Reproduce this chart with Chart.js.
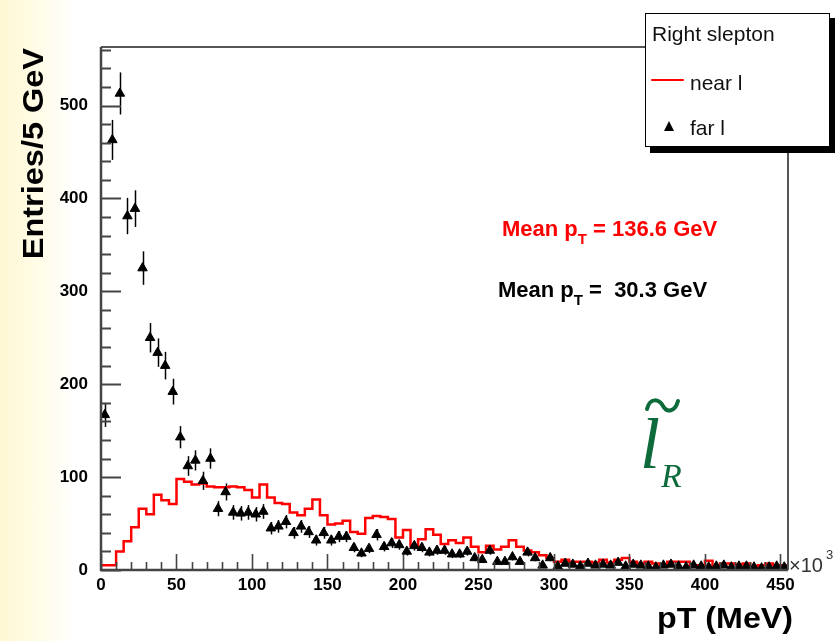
<!DOCTYPE html>
<html>
<head>
<meta charset="utf-8">
<script src="https://cdn.jsdelivr.net/npm/chart.js@4.4.0/dist/chart.umd.min.js"></script>
<style>
  html, body { margin: 0; padding: 0; }
  body {
    width: 838px; height: 641px; overflow: hidden;
    background: linear-gradient(to right, #fff8d4 0px, #fffce8 40px, #ffffff 75px);
  }
  #wrap { position: relative; width: 838px; height: 641px; }
</style>
</head>
<body>
<div id="wrap"><canvas id="ptChart" width="838" height="641"></canvas></div>
<script>
// histogramme : bins de 5 (axe en x10^3)
const binWidth = 5;
const xMax = 455;
const yMax = 563;
const xTickLabels = [0, 50, 100, 150, 200, 250, 300, 350, 400, 450];
const yTickLabels = [0, 100, 200, 300, 400, 500];

// near l (histogramme rouge)
const nearL = [5, 20, 31, 46, 66, 60, 81, 75, 71, 98,
               95, 92, 93, 90, 89, 89, 90, 89, 86, 78,
               92, 78, 72, 71, 62, 59, 66, 76, 59, 49,
               50, 53, 41, 39, 56, 58, 57, 55, 35, 43,
               26, 33, 44, 38, 28, 32, 29, 35, 25, 19,
               26, 22, 25, 32, 25, 21, 19, 16, 13, 9,
               11, 9, 9, 9, 8, 11, 8, 11, 13, 9,
               7, 9, 7, 4, 9, 9, 9, 5, 5, 10,
               2, 7, 7, 6, 7, 4, 5, 7, 5, 5, 3];

// far l (triangles noirs)
const farL = [167, 463, 513, 381, 389, 325, 250, 234, 220, 192,
              143, 112, 118, 96, 120, 66, 84, 62, 61, 62,
              60, 63, 45, 47, 52, 40, 47, 41, 32, 40,
              32, 36, 36, 24, 18, 23, 38, 25, 29, 27,
              20, 26, 24, 19, 21, 21, 17, 17, 20, 13,
              11, 21, 9, 9, 14, 9, 19, 13, 5, 13,
              4, 7, 6, 4, 7, 5, 6, 5, 8, 4,
              6, 5, 4, 3, 5, 6, 4, 3, 5, 4,
              3, 4, 5, 3, 4, 4, 3, 2, 3, 4, 3];

const meanNear = 'Mean p';
const meanNearRest = ' = 136.6 GeV';
const meanFarRest = ' =  30.3 GeV';

// points du histogramme (bords de bins) et centres
const nearPoints = [{ x: 0, y: nearL[0] }].concat(nearL.map((v, i) => ({ x: (i + 1) * binWidth, y: v })));
const farPoints = farL.map((v, i) => ({ x: i * binWidth + binWidth / 2, y: v }));

const FONT = '"Liberation Sans", Arial, Helvetica, sans-serif';

// Fonction pour écrire un texte avec indice T
function drawMean(ctx, x, y, color, rest) {
    ctx.fillStyle = color;
    ctx.font = 'bold 22px ' + FONT;
    ctx.textAlign = 'left';
    ctx.textBaseline = 'alphabetic';
    ctx.fillText(meanNear, x, y);
    let w = ctx.measureText(meanNear).width;
    ctx.font = 'bold 15px ' + FONT;
    ctx.fillText('T', x + w, y + 8);
    w += ctx.measureText('T').width;
    ctx.font = 'bold 22px ' + FONT;
    ctx.fillText(rest, x + w, y);
}

const rootStyle = {
    id: 'rootStyle',
    beforeDatasetsDraw(chart) {
        const { ctx, scales: { x, y } } = chart;
        ctx.save();
        ctx.strokeStyle = '#000';
        ctx.lineWidth = 1.5;
        farPoints.forEach(p => {
            const err = Math.sqrt(p.y);
            const px = Math.round(x.getPixelForValue(p.x)) + 0.5;
            ctx.beginPath();
            ctx.moveTo(px, y.getPixelForValue(p.y - err));
            ctx.lineTo(px, y.getPixelForValue(p.y + err));
            ctx.stroke();
        });
        ctx.restore();
    },
    afterDatasetsDraw(chart) {
        const { ctx, chartArea: a, scales: { x, y } } = chart;
        ctx.save();
        // cadre
        ctx.strokeStyle = '#555';
        ctx.lineWidth = 2;
        ctx.beginPath();
        ctx.moveTo(a.left, a.top);
        ctx.lineTo(a.right, a.top);
        ctx.lineTo(a.right, a.bottom);
        ctx.stroke();
        // axes
        ctx.strokeStyle = '#444';
        ctx.lineWidth = 2.5;
        ctx.beginPath();
        ctx.moveTo(a.left, a.top);
        ctx.lineTo(a.left, a.bottom);
        ctx.lineTo(a.right, a.bottom);
        ctx.stroke();
        // graduations y
        ctx.lineWidth = 2;
        for (let v = 0; v <= yMax; v += 20) {
            const py = Math.round(y.getPixelForValue(v)) + 0.5;
            const len = v % 100 === 0 ? 20 : 10;
            ctx.beginPath();
            ctx.moveTo(a.left, py);
            ctx.lineTo(a.left + len, py);
            ctx.stroke();
        }
        // graduations x
        ctx.lineWidth = 1.6;
        for (let v = 0; v <= xMax; v += 10) {
            const px = Math.round(x.getPixelForValue(v)) + 0.5;
            const len = v % 50 === 0 ? 16 : 8;
            ctx.beginPath();
            ctx.moveTo(px, a.bottom);
            ctx.lineTo(px, a.bottom - len);
            ctx.stroke();
        }
        ctx.restore();
    },
    afterDraw(chart) {
        const { ctx } = chart;
        ctx.save();
        // titres des axes
        ctx.fillStyle = '#000';
        ctx.font = 'bold 29px ' + FONT;
        ctx.textAlign = 'right';
        ctx.textBaseline = 'alphabetic';
        ctx.save();
        ctx.translate(793, 628);
        ctx.scale(1.11, 1);
        ctx.fillText('pT (MeV)', 0, 0);
        ctx.restore();
        ctx.save();
        ctx.translate(43, 48);
        ctx.rotate(-Math.PI / 2);
        ctx.scale(1.12, 1);
        ctx.fillText('Entries/5 GeV', 0, 0);
        ctx.restore();

        // x10^3
        ctx.fillStyle = '#333';
        ctx.textAlign = 'left';
        ctx.font = '20px ' + FONT;
        ctx.fillText('\u00d710', 789, 572);
        ctx.font = '13px ' + FONT;
        ctx.fillText('3', 826, 559);

        // moyennes
        drawMean(ctx, 502, 236, '#ff0000', meanNearRest);
        drawMean(ctx, 498, 297, '#000000', meanFarRest);

        // slepton droit
        ctx.fillStyle = '#0d6a3a';
        ctx.font = 'italic 72px "Liberation Serif", "Times New Roman", serif';
        ctx.fillText('l', 640, 468);
        ctx.font = 'italic 34px "Liberation Serif", "Times New Roman", serif';
        ctx.fillText('R', 661, 487);
        ctx.strokeStyle = '#0d6a3a';
        ctx.lineWidth = 4;
        ctx.lineCap = 'round';
        ctx.beginPath();
        ctx.moveTo(647, 409);
        ctx.bezierCurveTo(650, 397, 659, 399, 663, 406);
        ctx.bezierCurveTo(667, 413, 675, 412, 678, 401);
        ctx.stroke();

        // légende
        ctx.fillStyle = '#000';
        ctx.fillRect(650, 18, 185, 135);
        ctx.fillStyle = '#fff';
        ctx.fillRect(645, 13, 185, 134);
        ctx.strokeStyle = '#000';
        ctx.lineWidth = 1;
        ctx.strokeRect(645.5, 13.5, 184, 133);
        ctx.fillStyle = '#111';
        ctx.font = '21px ' + FONT;
        ctx.textAlign = 'left';
        ctx.fillText('Right slepton', 652, 41);
        ctx.fillText('near l', 690, 90);
        ctx.fillText('far l', 690, 135);
        ctx.strokeStyle = '#ff0000';
        ctx.lineWidth = 2;
        ctx.beginPath();
        ctx.moveTo(652, 80);
        ctx.lineTo(683, 80);
        ctx.stroke();
        ctx.fillStyle = '#000';
        ctx.beginPath();
        ctx.moveTo(669, 121);
        ctx.lineTo(674, 131);
        ctx.lineTo(664, 131);
        ctx.closePath();
        ctx.fill();
        ctx.restore();
    }
};

const ctx = document.getElementById('ptChart').getContext('2d');
new Chart(ctx, {
    type: 'scatter',
    data: {
        datasets: [{
            label: 'far l',
            data: farPoints,
            pointStyle: 'triangle',
            pointRadius: 5.5,
            backgroundColor: '#000',
            borderColor: '#000',
            borderWidth: 1
        }, {
            type: 'line',
            label: 'near l',
            data: nearPoints,
            stepped: 'before',
            borderColor: '#ff0000',
            borderWidth: 2.5,
            pointRadius: 0,
            fill: false
        }]
    },
    options: {
        responsive: false,
        animation: false,
        devicePixelRatio: 1,
        layout: { padding: { top: 47, right: 50, left: 0, bottom: 0 } },
        plugins: {
            legend: { display: false },
            tooltip: { enabled: false }
        },
        scales: {
            x: {
                type: 'linear',
                min: 0,
                max: xMax,
                afterBuildTicks: s => { s.ticks = xTickLabels.map(v => ({ value: v })); },
                afterFit: s => { s.height = 71; },
                grid: { display: false, drawTicks: false },
                border: { display: false },
                ticks: {
                    color: '#000',
                    font: { family: FONT, weight: 'bold', size: 17 },
                    padding: 5,
                    maxRotation: 0,
                    autoSkip: false
                }
            },
            y: {
                min: 0,
                max: yMax,
                afterBuildTicks: s => { s.ticks = yTickLabels.map(v => ({ value: v })); },
                afterFit: s => { s.width = 101; },
                grid: { display: false, drawTicks: false },
                border: { display: false },
                ticks: {
                    color: '#000',
                    font: { family: FONT, weight: 'bold', size: 17 },
                    padding: 13
                }
            }
        }
    },
    plugins: [rootStyle]
});
</script>
</body>
</html>
